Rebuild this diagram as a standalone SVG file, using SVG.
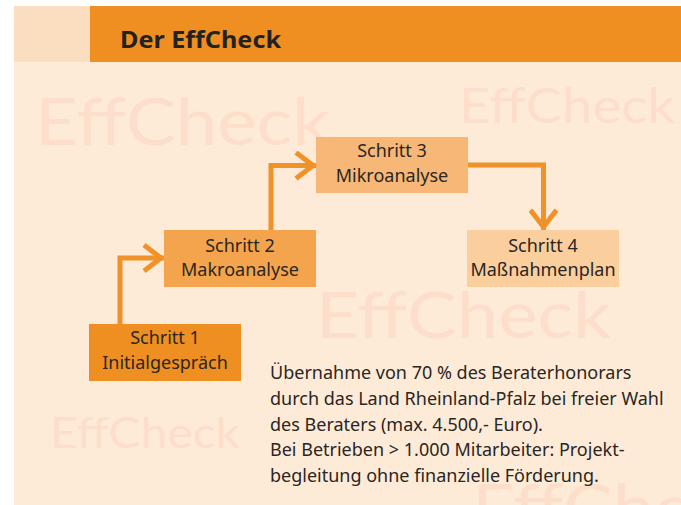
<svg xmlns="http://www.w3.org/2000/svg" width="681" height="505" viewBox="0 0 681 505">
<style>
.wm{font-family:"Lato","Liberation Sans",sans-serif;fill:#FCDECA;font-weight:normal}
.t{font-family:"Noto Sans","Liberation Sans",sans-serif;font-size:18px;fill:#2a2623}
.bt{text-anchor:middle}
.con{fill:none;stroke:#F09227;stroke-width:5;stroke-linejoin:miter}
</style>
<defs>
<marker id="chev" markerUnits="userSpaceOnUse" markerWidth="34" markerHeight="30" viewBox="0 0 34 30" refX="31" refY="15" orient="auto">
<path d="M11,2 L28,15 L11,28" fill="none" stroke="#F09227" stroke-width="5"/>
</marker>
</defs>
<rect x="0" y="0" width="681" height="505" fill="#ffffff"/>
<rect x="14" y="62" width="667" height="443" fill="#FDEBD7"/>
<g id="header">
<rect x="14" y="6" width="76" height="56" fill="#FBDDBF"/>
<rect x="90" y="6" width="591" height="56" fill="#EF8F22"/>
<text x="120" y="48" textLength="161" lengthAdjust="spacingAndGlyphs" style="font-family:'Noto Sans','Liberation Sans',sans-serif;font-size:24px;font-weight:bold;fill:#222">Der EffCheck</text>
</g>
<g id="watermarks">
<text class="wm" x="35" y="145" font-size="66" textLength="295" lengthAdjust="spacingAndGlyphs">EffCheck</text>
<text class="wm" x="459" y="123" font-size="48" textLength="216" lengthAdjust="spacingAndGlyphs">EffCheck</text>
<text class="wm" x="316" y="338" font-size="64" textLength="295" lengthAdjust="spacingAndGlyphs">EffCheck</text>
<text class="wm" x="50" y="448" font-size="43" textLength="190" lengthAdjust="spacingAndGlyphs">EffCheck</text>
<text class="wm" x="472" y="531" font-size="66" textLength="295" lengthAdjust="spacingAndGlyphs">EffCheck</text>
</g>
<g id="connectors">
<path class="con" d="M120,324 V258 H164" marker-end="url(#chev)"/>
<path class="con" d="M271,230 V165.5 H316" marker-end="url(#chev)"/>
<path class="con" d="M468,165 H543.5 V230" marker-end="url(#chev)"/>
</g>
<g id="step1">
<rect x="89" y="324" width="152" height="57" fill="#EF8F22"/>
<text class="t bt" x="165" y="344">Schritt 1</text>
<text class="t bt" x="165" y="369">Initialgespräch</text>
</g>
<g id="step2">
<rect x="164" y="230" width="152" height="57" fill="#F3A44C"/>
<text class="t bt" x="240" y="252">Schritt 2</text>
<text class="t bt" x="240" y="276">Makroanalyse</text>
</g>
<g id="step3">
<rect x="316" y="137" width="152" height="56" fill="#F7B877"/>
<text class="t bt" x="392" y="157">Schritt 3</text>
<text class="t bt" x="392" y="182">Mikroanalyse</text>
</g>
<g id="step4">
<rect x="467" y="230" width="152" height="57" fill="#FBCE9D"/>
<text class="t bt" x="543" y="252">Schritt 4</text>
<text class="t bt" x="543" y="276">Maßnahmenplan</text>
</g>
<g id="note">
<text class="t" x="270" y="379">Übernahme von 70 % des Beraterhonorars</text>
<text class="t" x="270" y="405">durch das Land Rheinland-Pfalz bei freier Wahl</text>
<text class="t" x="270" y="431">des Beraters (max. 4.500,- Euro).</text>
<text class="t" x="270" y="456">Bei Betrieben &gt; 1.000 Mitarbeiter: Projekt-</text>
<text class="t" x="270" y="482">begleitung ohne finanzielle Förderung.</text>
</g>
</svg>
